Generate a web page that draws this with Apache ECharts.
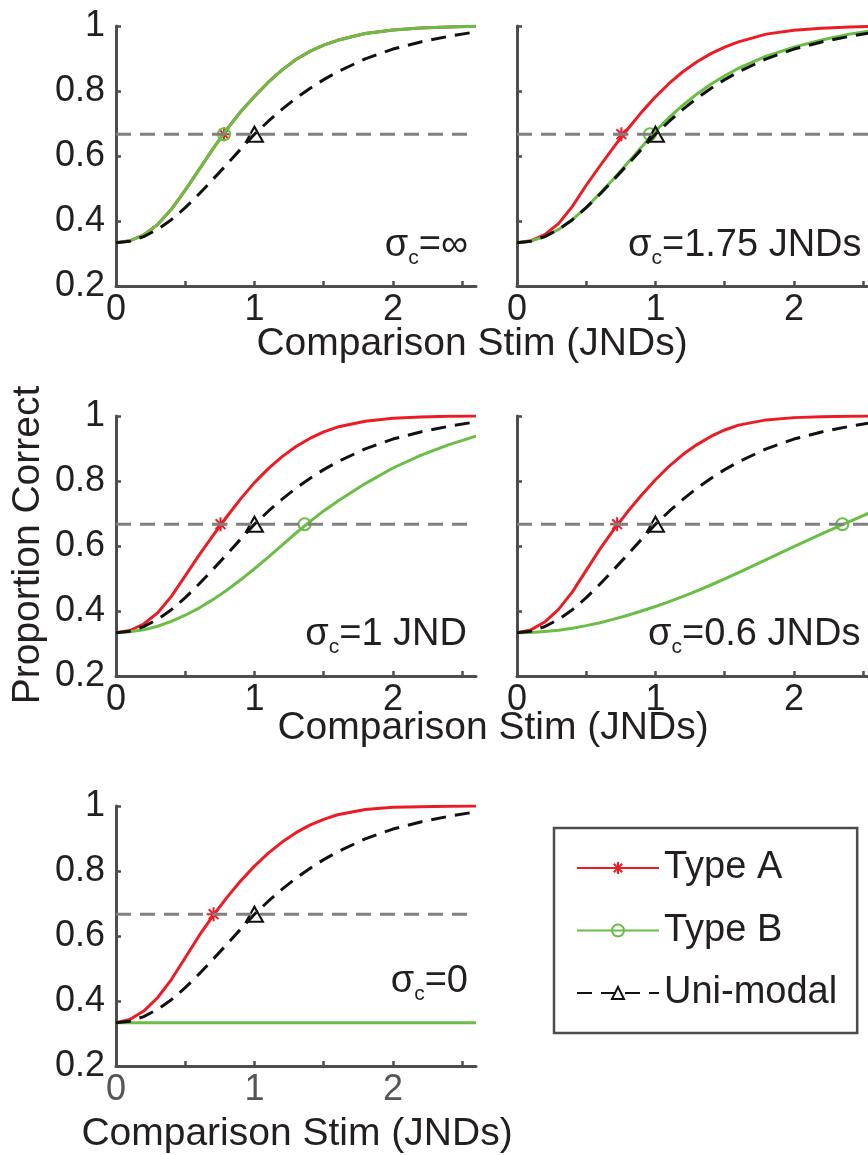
<!DOCTYPE html>
<html><head><meta charset="utf-8">
<script src="https://cdn.jsdelivr.net/npm/echarts@6/dist/echarts.min.js"></script>
<style>html,body{margin:0;padding:0;background:#fff}#c{width:868px;height:1155px}</style>
</head><body><div id="c"></div>
<script>
// ---------------- data ----------------
const xs        = [0, 0.1, 0.2, 0.3, 0.4, 0.5, 0.6, 0.7, 0.8, 0.9, 1.0, 1.1, 1.2, 1.3, 1.4, 1.5, 1.6, 1.8, 2.0, 2.2, 2.4, 2.6];
const uniModal  = [0.333, 0.338, 0.352, 0.374, 0.404, 0.441, 0.483, 0.528, 0.574, 0.621, 0.667, 0.707, 0.744, 0.778, 0.808, 0.835, 0.859, 0.899, 0.929, 0.951, 0.968, 0.982];
const p1TypeA   = [0.333, 0.339, 0.357, 0.389, 0.436, 0.495, 0.558, 0.622, 0.682, 0.736, 0.783, 0.827, 0.865, 0.897, 0.922, 0.941, 0.956, 0.977, 0.988, 0.994, 0.997, 0.999];
const p1TypeB   = [0.333, 0.339, 0.357, 0.389, 0.436, 0.495, 0.558, 0.622, 0.682, 0.736, 0.783, 0.827, 0.865, 0.897, 0.922, 0.941, 0.956, 0.977, 0.988, 0.994, 0.997, 0.999];
const p2TypeA   = [0.333, 0.339, 0.358, 0.392, 0.445, 0.510, 0.570, 0.628, 0.683, 0.735, 0.782, 0.824, 0.860, 0.890, 0.915, 0.935, 0.951, 0.975, 0.987, 0.993, 0.997, 0.999];
const p2TypeB   = [0.333, 0.338, 0.352, 0.374, 0.404, 0.442, 0.485, 0.531, 0.579, 0.628, 0.676, 0.719, 0.757, 0.791, 0.821, 0.847, 0.870, 0.907, 0.935, 0.957, 0.975, 0.988];
const p3TypeA   = [0.333, 0.340, 0.360, 0.394, 0.445, 0.508, 0.572, 0.632, 0.690, 0.745, 0.795, 0.838, 0.875, 0.906, 0.931, 0.951, 0.966, 0.984, 0.993, 0.997, 0.999, 1.000];
const p3TypeB   = [0.333, 0.336, 0.342, 0.353, 0.368, 0.387, 0.409, 0.435, 0.464, 0.496, 0.530, 0.566, 0.603, 0.640, 0.675, 0.708, 0.738, 0.792, 0.840, 0.879, 0.911, 0.938];
const p4TypeA   = [0.333, 0.342, 0.366, 0.405, 0.459, 0.525, 0.591, 0.651, 0.706, 0.757, 0.804, 0.846, 0.882, 0.912, 0.937, 0.957, 0.972, 0.988, 0.995, 0.998, 0.999, 1.000];
const p4TypeB   = [0.333, 0.334, 0.337, 0.341, 0.347, 0.355, 0.364, 0.375, 0.387, 0.400, 0.414, 0.429, 0.445, 0.462, 0.480, 0.499, 0.518, 0.558, 0.598, 0.637, 0.675, 0.712];
const p5TypeA   = [0.333, 0.343, 0.369, 0.410, 0.466, 0.533, 0.601, 0.662, 0.718, 0.769, 0.815, 0.855, 0.889, 0.918, 0.941, 0.959, 0.973, 0.989, 0.996, 0.998, 0.999, 1.000];
const p5TypeB   = [0.333, 0.333, 0.333, 0.333, 0.333, 0.333, 0.333, 0.333, 0.333, 0.333, 0.333, 0.333, 0.333, 0.333, 0.333, 0.333, 0.333, 0.333, 0.333, 0.333, 0.333, 0.333];
const criterion = 0.667;
const thrTypeA  = [0.78, 0.754, 0.755, 0.723, 0.705];
const thrTypeB  = [0.78, 0.96, 1.362, 2.35, null];
const thrUni    = [1, 1, 1, 1, 1];
const sigmaText = ['∞', '1.75 JNDs', '1 JND', '0.6 JNDs', '0'];
const xTicks    = [0, 0.5, 1, 1.5, 2, 2.5];
const xLabels   = [0, 1, 2];
const yTicks    = [0.2, 0.4, 0.6, 0.8, 1];
const xRange    = [0, 2.6];
const yRange    = [0.2, 1];
const legendNames = ['Type A', 'Type B', 'Uni-modal'];
const xTitle    = 'Comparison Stim (JNDs)';
const yTitle    = 'Proportion Correct';

// ---------------- styling / layout ----------------
const FONT = '"Liberation Sans", Arial, Helvetica, sans-serif';
const RED = '#ed1c24', GREEN = '#6abd45', BLACK = '#111111', GRAY = '#808080', AX = '#4d4d4d', TXT = '#231f20';
const ASTERISK = 'path://M10,0L10,20M0,10L20,10M3,3L17,17M3,17L17,3';
const grids = [
  {left: 116, top: 26}, {left: 517, top: 26},
  {left: 116, top: 416}, {left: 517, top: 416},
  {left: 116, top: 806}
];
const typeA = [p1TypeA, p2TypeA, p3TypeA, p4TypeA, p5TypeA];
const typeB = [p1TypeB, p2TypeB, p3TypeB, p4TypeB, p5TypeB];

function lineSeries(name, p, ys, color, dashed, sym, size, mx, z) {
  const s = {
    type: 'line', name: name, xAxisIndex: p, yAxisIndex: p,
    data: xs.map((x, i) => [x, ys[i]]),
    showSymbol: false, symbol: sym, symbolSize: size,
    smooth: false,
    lineStyle: {color: color, width: 3, type: dashed ? [15, 9] : 'solid', join: 'round', cap: 'butt'},
    itemStyle: {color: 'transparent', borderColor: color, borderWidth: 2},
    silent: true, animation: false, z: z
  };
  if (mx != null) {
    s.markPoint = {
      symbol: sym, symbolSize: size, silent: true, animation: false, z: z,
      itemStyle: {color: 'transparent', borderColor: color, borderWidth: 2},
      label: {show: false},
      data: [{coord: [mx, criterion]}]
    };
  }
  return s;
}

const option = {
  backgroundColor: '#fff',
  animation: false,
  grid: grids.map(g => ({left: g.left, top: g.top, width: 360, height: 260, outerBoundsMode: 'none', containLabel: false})),
  xAxis: grids.map((g, p) => ({
    type: 'value', gridIndex: p, min: xRange[0], max: xRange[1], interval: 0.5,
    axisLine: {show: true, onZero: false, lineStyle: {color: AX, width: 3}},
    axisTick: {show: true, inside: true, length: 5, lineStyle: {color: AX, width: 2.5}, customValues: xTicks},
    axisLabel: {show: true, customValues: xLabels, margin: 6, fontSize: 36, fontFamily: FONT,
      color: p === 4 ? '#555555' : TXT,
      formatter: v => (Math.abs(v - Math.round(v)) < 1e-9 ? String(Math.round(v)) : '')},
    splitLine: {show: false}
  })),
  yAxis: grids.map((g, p) => ({
    type: 'value', gridIndex: p, min: yRange[0], max: yRange[1], interval: 0.2,
    axisLine: {show: true, onZero: false, lineStyle: {color: AX, width: 3}},
    axisTick: {show: true, inside: true, length: 5, lineStyle: {color: AX, width: 2.5}, customValues: yTicks},
    axisLabel: {show: p === 0 || p === 2 || p === 4, customValues: yTicks, margin: 11,
      fontSize: 36, fontFamily: FONT, color: TXT},
    splitLine: {show: false}
  })),
  legend: {
    orient: 'vertical', left: 554, top: 828, padding: [20, 20, 20, 22],
    itemWidth: 82, itemHeight: 15, itemGap: 22.5,
    borderColor: AX, borderWidth: 2.5, backgroundColor: '#fff',
    selectedMode: false,
    textStyle: {fontSize: 38, fontFamily: FONT, color: TXT, lineHeight: 40},
    data: [
      {name: legendNames[0], itemStyle: {color: 'transparent', borderColor: RED, borderWidth: 2}},
      {name: legendNames[1], itemStyle: {color: 'transparent', borderColor: GREEN, borderWidth: 2}},
      {name: legendNames[2], itemStyle: {color: 'transparent', borderColor: BLACK, borderWidth: 2}}
    ]
  },
  series: [],
  graphic: []
};

for (let p = 0; p < 5; p++) {
  option.series.push(lineSeries(legendNames[0], p, typeA[p], RED, false, ASTERISK, 14, thrTypeA[p], 2));
  option.series.push(lineSeries(legendNames[1], p, typeB[p], GREEN, false, 'circle', 12, thrTypeB[p], 3));
  option.series.push(lineSeries(legendNames[2], p, uniModal, BLACK, true, 'triangle', [17, 15], thrUni[p], 4));
  option.series.push({
    type: 'line', name: 'criterion', xAxisIndex: p, yAxisIndex: p,
    data: [[xRange[0], criterion], [xRange[1], criterion]],
    showSymbol: false, symbol: 'none', silent: true, animation: false, z: 5,
    lineStyle: {color: GRAY, width: 3, type: [15, 9]}
  });
}

// axis titles
const titlePos = [[472, 344], [493, 728], [297, 1134]];
titlePos.forEach(([x, y]) => option.graphic.push({
  type: 'text', x: x, y: y, silent: true,
  style: {text: xTitle, fontSize: 39, fontFamily: FONT, fill: TXT, align: 'center', verticalAlign: 'middle'}
}));
option.graphic.push({
  type: 'text', x: 28, y: 545, rotation: Math.PI / 2, silent: true,
  style: {text: yTitle, fontSize: 39, fontFamily: FONT, fill: TXT, align: 'center', verticalAlign: 'middle'}
});

// sigma annotations
const annPos = [
  {x: 468, y: 227, align: 'right'},
  {x: 628, y: 227, align: 'left'},
  {x: 467, y: 616, align: 'right'},
  {x: 648, y: 616, align: 'left'},
  {x: 468, y: 963, align: 'right'}
];
annPos.forEach((a, p) => option.graphic.push({
  type: 'text', x: a.x, y: a.y, silent: true, z: 10,
  style: {
    text: '{m|σ}{s|c}{m|=' + sigmaText[p] + '}',
    align: a.align, verticalAlign: 'top',
    rich: {
      m: {fontSize: 38, fontFamily: FONT, fill: TXT, color: TXT, verticalAlign: 'top'},
      s: {fontSize: 21, fontFamily: FONT, fill: TXT, color: TXT, verticalAlign: 'top', padding: [21, 0, 0, 0]}
    }
  }
}));

const chart = echarts.init(document.getElementById('c'), null, {renderer: 'canvas'});
chart.setOption(option);
</script></body></html>
